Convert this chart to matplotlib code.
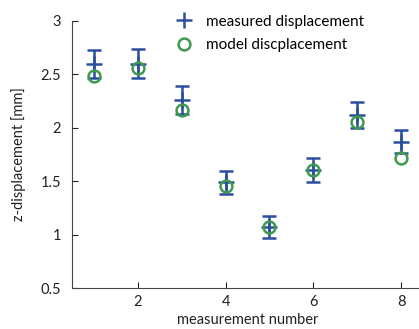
import matplotlib.pyplot as plt
from matplotlib.lines import Line2D

plt.rcParams['font.family'] = ['Lato', 'DejaVu Sans']

# measurement data
meas_num = [1, 2, 3, 4, 5, 6, 7, 8]
measured = [2.60, 2.60, 2.26, 1.49, 1.07, 1.605, 2.12, 1.87]
meas_err = [0.13, 0.135, 0.13, 0.11, 0.10, 0.115, 0.12, 0.11]
model = [2.485, 2.56, 2.17, 1.455, 1.07, 1.605, 2.05, 1.72]

y_ticks = [0.5, 1, 1.5, 2, 2.5, 3]
y_ticklabels = ['0.5', '1', '1.5', '2', '2.5', '3']
x_ticks = [2, 4, 6, 8]

blue = '#2b4f9e'
green = '#3d9a4f'

fig = plt.figure(figsize=(4.19, 3.29), dpi=100)
ax = fig.add_axes([72 / 419, 41 / 329, (423 - 72) / 419, 267 / 329])

ax.errorbar(meas_num, measured, yerr=meas_err, fmt='+', color=blue,
            markersize=12, markeredgewidth=1.8, elinewidth=1.8,
            capsize=5, capthick=1.8, zorder=3)
ax.plot(meas_num, model, 'o', markerfacecolor='none', markeredgecolor=green,
        markersize=8.5, markeredgewidth=1.8, zorder=4)

ax.set_xlim(0.5, 8.5)
ax.set_ylim(0.5, 3)
ax.set_xticks(x_ticks)
ax.set_yticks(y_ticks)
ax.set_yticklabels(y_ticklabels)
ax.tick_params(direction='in', length=4, width=0.8, labelsize=10.5, colors='#222222', pad=8)
ax.tick_params(axis='x', pad=5)

ax.spines['top'].set_visible(False)
ax.spines['right'].set_visible(False)
ax.spines['left'].set_color('#444444')
ax.spines['bottom'].set_color('#444444')

ax.set_xlabel('measurement number', fontsize=10.5, color='#222222', labelpad=3)
ax.set_ylabel('z-displacement [mm]', fontsize=10.5, color='#222222', labelpad=10)

# legend: plain markers only
handles = [
    Line2D([], [], linestyle='none', marker='+', color=blue, markersize=12, markeredgewidth=1.8),
    Line2D([], [], linestyle='none', marker='o', markerfacecolor='none', markeredgecolor=green,
           markersize=8.5, markeredgewidth=1.8),
]
labels = ['measured displacement', 'model discplacement']
ax.legend(handles, labels, loc='upper left', bbox_to_anchor=(0.255, 1.075),
          frameon=False, fontsize=11, handletextpad=0.8, labelspacing=0.6,
          handlelength=1.2)

fig.savefig('out.png', dpi=100)
